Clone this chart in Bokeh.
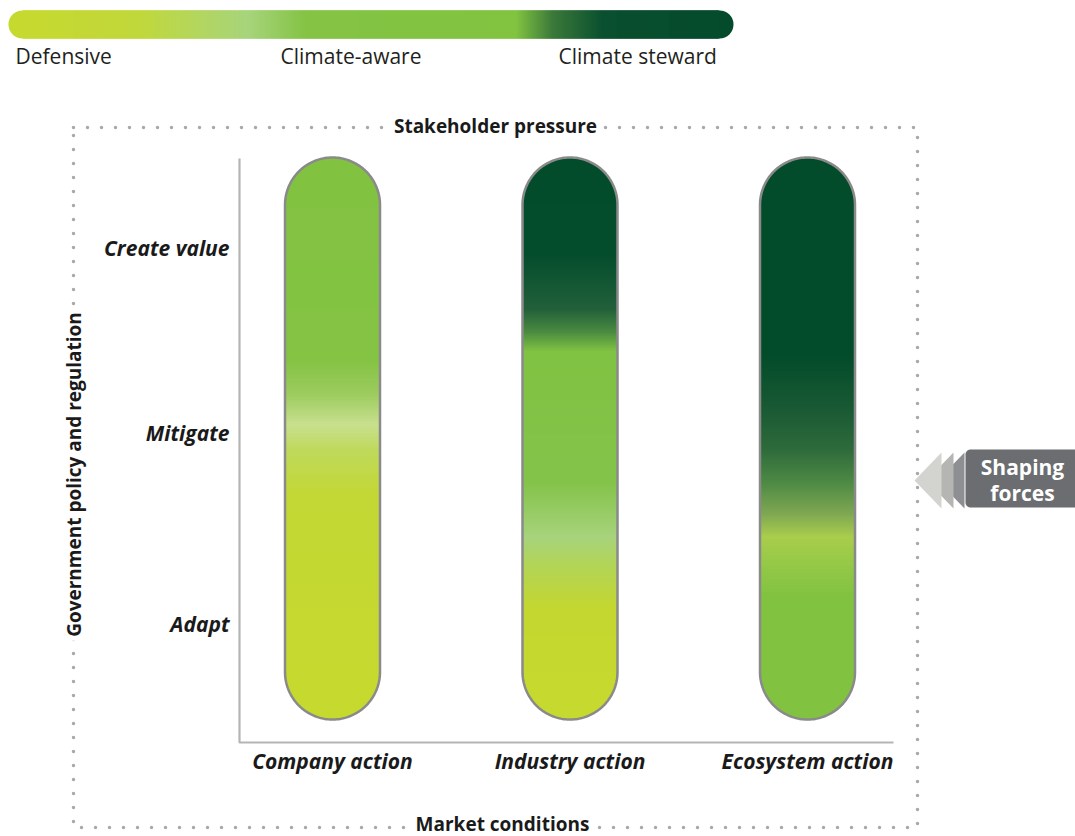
import numpy as np
from bokeh.plotting import figure
from bokeh.models import Range1d, Label
from bokeh.embed import file_html
from bokeh.resources import INLINE
from bokeh.core.properties import value

# ---------------- data ----------------
legend_labels = ["Defensive", "Climate-aware", "Climate steward"]
legend_stop_pos = [0.0, 0.18, 0.33, 0.41, 0.70, 0.75, 0.82, 1.0]
legend_stop_col = ["#c6d92e", "#c1d83b", "#a7d47c", "#84c345", "#82c341", "#3c7a3a", "#0a5030", "#034b2b"]

actions = ["Company action", "Industry action", "Ecosystem action"]
levels = ["Adapt", "Mitigate", "Create value"]
forces_top = "Stakeholder pressure"
forces_bottom = "Market conditions"
forces_left = "Government policy and regulation"
forces_box = ["Shaping", "forces"]

company_pos = [0.0, 0.36, 0.42, 0.475, 0.52, 0.60, 1.0]
company_col = ["#82c241", "#84c343", "#9ccb5e", "#c8e08e", "#bfd95c", "#c3d834", "#c6d92e"]
industry_pos = [0.0, 0.17, 0.27, 0.31, 0.345, 0.58, 0.675, 0.72, 0.80, 1.0]
industry_col = ["#024b2b", "#034c2c", "#22603a", "#4a8a40", "#80c242", "#84c34a", "#a7d37c", "#b1d45a", "#c3d730", "#c6d92e"]
ecosystem_pos = [0.0, 0.35, 0.45, 0.52, 0.58, 0.635, 0.675, 0.72, 0.78, 1.0]
ecosystem_col = ["#024b2b", "#024b2b", "#1a5a34", "#2e6b3b", "#4f8a45", "#80a852", "#a9cd4c", "#96c947", "#82c241", "#82c241"]
bar_stops = [(company_pos, company_col), (industry_pos, industry_col), (ecosystem_pos, ecosystem_col)]

# ---------------- helpers ----------------
W, H = 1075, 836
FONT = value("Open Sans")
DARK = "#1a1a1a"


def hex2rgb(h):
    h = h.lstrip("#")
    return np.array([int(h[i:i + 2], 16) for i in (0, 2, 4)], dtype=float)


def grad(pos, cols, t):
    rgb = np.array([hex2rgb(c) for c in cols])
    out = np.stack([np.interp(t, pos, rgb[:, k]) for k in range(3)], axis=1)
    return ["#%02x%02x%02x" % tuple(int(round(v)) for v in row) for row in out]


p = figure(width=W, height=H, x_range=Range1d(0, W), y_range=Range1d(H, 0),
           output_backend="svg", toolbar_location=None, min_border=0)
p.axis.visible = False
p.grid.visible = False
p.outline_line_color = None
p.background_fill_color = "white"
p.border_fill_color = "white"

# ---------------- legend gradient bar ----------------
lx0, lx1, ly0, ly1 = 8, 733, 10, 38
lr = (ly1 - ly0) / 2
lcy = (ly0 + ly1) / 2
p.circle(x=[lx0 + lr, lx1 - lr], y=[lcy, lcy], radius=lr,
         fill_color=[legend_stop_col[0], legend_stop_col[-1]], line_color=None)
xs = np.arange(lx0 + lr, lx1 - lr - 2, 1.0)
tl = (xs + 0.5 - lx0) / (lx1 - lx0)
p.quad(left=xs, right=xs + 3, top=ly0, bottom=ly1, fill_color=grad(legend_stop_pos, legend_stop_col, tl),
       line_color=None)
p.text(x=[15, 280, 558], y=[55, 55, 55], text=legend_labels, text_font=FONT, text_font_size="21px",
       text_color="#231f20", text_align="left", text_baseline="middle")

# ---------------- dotted frame ----------------
fx0, fx1, fy0, fy1 = 73, 917, 127, 827
p.line(x=[fx0, fx1, fx1, fx0, fx0], y=[fy0, fy0, fy1, fy1, fy0], line_color="#a7a9ac",
       line_width=3.5, line_dash="0 14", line_cap="round")

for txt, x, y, ang in [(forces_top, 495, 125, 0), (forces_bottom, 502, 823, 0), (forces_left, 73, 474, np.pi / 2)]:
    p.add_layout(Label(x=x, y=y, text=txt, text_font="Open Sans", text_font_size="19px", text_font_style="bold",
                       text_color=DARK, text_align="center", text_baseline="middle", angle=ang,
                       background_fill_color="white", padding=4))

# ---------------- inner axes ----------------
ax_x, ax_top, ax_y, ax_right = 239, 158, 742, 893
p.line(x=[ax_x, ax_x, ax_right], y=[ax_top, ax_y, ax_y], line_color="#b5b5b5", line_width=2.2)

level_y = [623, 432, 247]
p.text(x=[229] * 3, y=level_y, text=levels, text_font=FONT, text_font_size="21px",
       text_font_style="bold italic", text_color=DARK, text_align="right", text_baseline="middle")

# ---------------- pill bars ----------------
bw, btop, bbot = 95, 157, 719
r = bw / 2
centers = [332 + 237.5 * i for i in range(len(actions))]
for cx, (pos, cols) in zip(centers, bar_stops):
    p.circle(x=[cx, cx], y=[btop + r, bbot - r], radius=r, fill_color=[cols[0], cols[-1]], line_color=None)
    ys = np.arange(btop + r, bbot - r - 2, 1.0)
    tb = (ys + 0.5 - btop) / (bbot - btop)
    p.quad(left=cx - r, right=cx + r, top=ys, bottom=ys + 3, fill_color=grad(pos, cols, tb), line_color=None)
    t1 = np.linspace(np.pi, 0, 90)
    t2 = np.linspace(0, -np.pi, 90)
    ox = np.concatenate([cx + r * np.cos(t1), cx + r * np.cos(t2), [cx - r]])
    oy = np.concatenate([btop + r - r * np.sin(t1), bbot - r - r * np.sin(t2), [btop + r]])
    p.line(x=ox, y=oy, line_color="#8a8a8a", line_width=2.5)

p.text(x=centers, y=[760] * 3, text=actions, text_font=FONT, text_font_size="21px",
       text_font_style="bold italic", text_color=DARK, text_align="center", text_baseline="middle")

# ---------------- shaping forces ----------------
tri_cols = ["#8e8f92", "#b5b6b3", "#d3d4cf"]
tri_shift = [23, 12, 0]
p.patches(xs=[[914 + s, 941 + s, 941 + s] for s in tri_shift], ys=[[480, 452, 508]] * 3,
          fill_color=tri_cols, line_color=None)
bx0, bx1, by0, by1, br = 965, 1080, 449, 507, 5
a = np.linspace(np.pi / 2, np.pi, 12)
top_c_x = bx0 + br + br * np.cos(a)
top_c_y = by0 + br - br * np.sin(a)
a2 = np.linspace(np.pi, 1.5 * np.pi, 12)
bot_c_x = bx0 + br + br * np.cos(a2)
bot_c_y = by1 - br - br * np.sin(a2)
p.patch(x=np.concatenate([[bx1], top_c_x, bot_c_x, [bx1]]),
        y=np.concatenate([[by0], top_c_y, bot_c_y, [by1]]), fill_color="#6b6d70", line_color=None)
p.text(x=[1022, 1022], y=[466, 492], text=forces_box, text_font=FONT, text_font_size="21px",
       text_font_style="bold", text_color="white", text_align="center", text_baseline="middle")

open("out.html", "w").write(file_html(p, INLINE))
